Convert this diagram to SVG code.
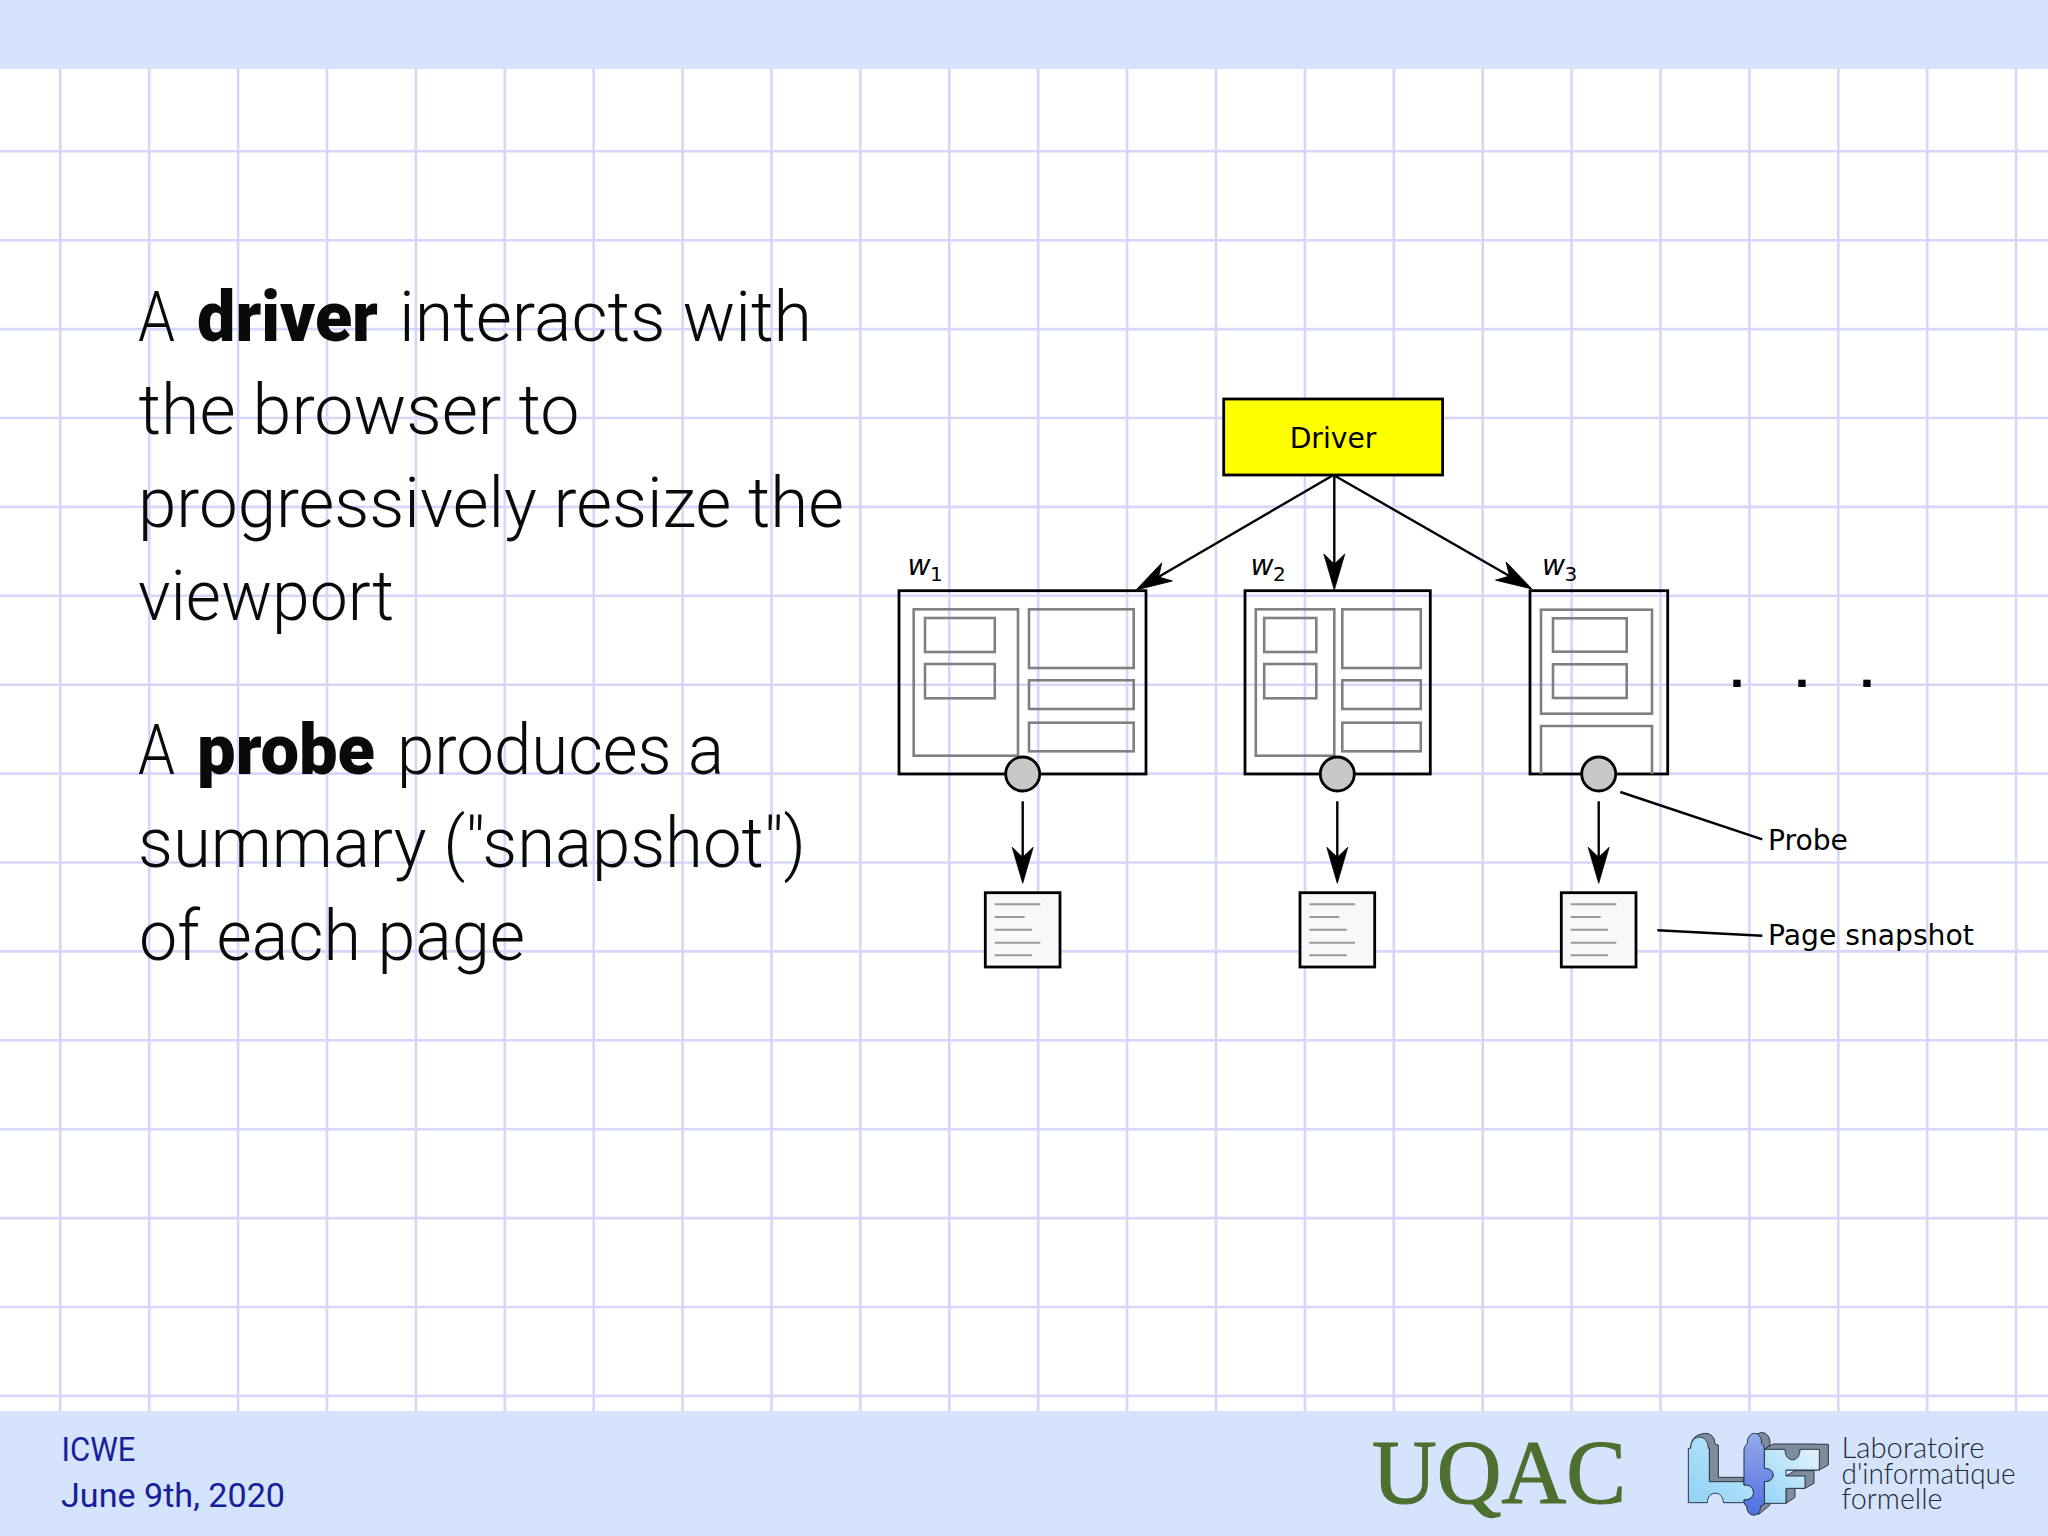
<svg xmlns="http://www.w3.org/2000/svg" width="2048" height="1536" viewBox="0 0 2048 1536">
<style>
.grid{fill:none;stroke:#d6d6fa;stroke-width:2.6}
.band{fill:#d5e3fd}
.body{font-family:"Roboto","Liberation Sans",sans-serif;font-weight:300;font-size:70px;fill:#0a0a0a}
.strong{font-weight:900}
.foot{font-family:"Roboto","Liberation Sans",sans-serif;font-weight:400;font-size:33px;fill:#15209a}
.lab{font-family:"DejaVu Sans",sans-serif;font-size:28.2px;fill:#000}
.var{font-style:italic}
.sub{font-size:20px}
.win{fill:none;stroke:#000;stroke-width:2.8}
.in{fill:none;stroke:#808080;stroke-width:2.6}
.probe{fill:#c8c8c8;stroke:#000;stroke-width:2.8}
.conn{fill:none;stroke:#000;stroke-width:2.4}
.arrow{marker-end:url(#head)}
.snap{fill:#f8f8fa;stroke:#000;stroke-width:2.8}
.ln{stroke:#999;stroke-width:2;fill:none}
.lif{stroke:#2b3440;stroke-width:3;stroke-linejoin:round}
.ext{fill:#7f8c9b}
.logo{font-family:"Lato","Roboto",sans-serif;font-weight:300;font-size:29px;fill:#222a33}
</style>
<defs>
<marker id="head" markerUnits="userSpaceOnUse" markerWidth="40" markerHeight="24" refX="30" refY="12" orient="auto" overflow="visible">
<path d="M38,12 L2,1.5 L12,12 L2,22.5 Z" fill="#000" stroke="#000" stroke-width="0.8"/>
</marker>
<linearGradient id="gL" x1="0" y1="1" x2="1" y2="0"><stop offset="0" stop-color="#8fd2f6"/><stop offset="1" stop-color="#c6e9fb"/></linearGradient>
<linearGradient id="gF" x1="0" y1="1" x2="1" y2="0"><stop offset="0" stop-color="#93d4f7"/><stop offset="1" stop-color="#e4f4fc"/></linearGradient>
<linearGradient id="gB" x1="0" y1="0" x2="0" y2="1"><stop offset="0" stop-color="#94aaea"/><stop offset="1" stop-color="#4f6fe2"/></linearGradient>
<g id="doc">
<rect class="snap" x="0" y="0" width="74.7" height="74.3"/>
<path class="ln" d="M9.4,11.6H55M9.4,24.3H39.4M9.4,37H46.7M9.4,50H55M9.4,62.6H46.7"/>
</g>
</defs>

<rect width="2048" height="1536" fill="#fff"/>
<path id="grid" class="grid" d="M60.3,60V1420M149.2,60V1420M238.1,60V1420M327,60V1420M415.9,60V1420M504.8,60V1420M593.7,60V1420M682.6,60V1420M771.5,60V1420M860.4,60V1420M949.3,60V1420M1038.2,60V1420M1127.1,60V1420M1216,60V1420M1304.9,60V1420M1393.8,60V1420M1482.7,60V1420M1571.6,60V1420M1660.5,60V1420M1749.4,60V1420M1838.3,60V1420M1927.2,60V1420M2016.1,60V1420M0,151.3H2048M0,240.2H2048M0,329.1H2048M0,418H2048M0,506.9H2048M0,595.8H2048M0,684.7H2048M0,773.6H2048M0,862.5H2048M0,951.4H2048M0,1040.3H2048M0,1129.2H2048M0,1218.1H2048M0,1307H2048M0,1395.9H2048"/>
<rect id="top-band" class="band" x="0" y="0" width="2048" height="69"/>
<rect id="bottom-band" class="band" x="0" y="1411" width="2048" height="125"/>

<g id="text-left">
<text class="body" y="341"><tspan x="138" textLength="37" lengthAdjust="spacingAndGlyphs">A</tspan><tspan class="strong" x="197" textLength="181" lengthAdjust="spacingAndGlyphs">driver</tspan><tspan x="399" textLength="413" lengthAdjust="spacingAndGlyphs">interacts with</tspan></text>
<text class="body" x="138.5" y="433.5" textLength="441" lengthAdjust="spacingAndGlyphs">the browser to</text>
<text class="body" x="138" y="527" textLength="706" lengthAdjust="spacingAndGlyphs">progressively resize the</text>
<text class="body" x="138" y="620" textLength="256" lengthAdjust="spacingAndGlyphs">viewport</text>
<text class="body" y="774"><tspan x="138" textLength="37" lengthAdjust="spacingAndGlyphs">A</tspan><tspan class="strong" x="197" textLength="178" lengthAdjust="spacingAndGlyphs">probe</tspan><tspan x="397" textLength="327" lengthAdjust="spacingAndGlyphs">produces a</tspan></text>
<text class="body" x="138" y="867" textLength="668" lengthAdjust="spacingAndGlyphs">summary ("snapshot")</text>
<text class="body" x="139" y="960" textLength="386" lengthAdjust="spacingAndGlyphs">of each page</text>
</g>

<g id="connectors">
<path class="conn arrow" d="M1333.5,475L1142.9,586"/>
<path class="conn arrow" d="M1334.3,475V582"/>
<path class="conn arrow" d="M1333.5,475L1525.1,585"/>
<path class="conn arrow" d="M1022.7,801.3V875.3"/>
<path class="conn arrow" d="M1337.3,801.3V875.3"/>
<path class="conn arrow" d="M1598.7,801.3V875.3"/>
<path class="conn" d="M1620.3,792L1762.3,839.3"/>
<path class="conn" d="M1657.3,930.3L1762.3,935.7"/>
</g>

<g id="driver">
<rect x="1223.7" y="399" width="218.9" height="76" fill="#ffff00" stroke="#000" stroke-width="2.8"/>
<text class="lab" x="1333" y="448.3" text-anchor="middle">Driver</text>
</g>

<g id="w1">
<rect class="win" x="899" y="590.7" width="247" height="183.3"/>
<rect class="in" x="913.7" y="609.3" width="104.3" height="146.4"/>
<rect class="in" x="925" y="618" width="69.8" height="34"/>
<rect class="in" x="925" y="664" width="69.8" height="34.3"/>
<rect class="in" x="1029" y="609.3" width="104.7" height="58.7"/>
<rect class="in" x="1029" y="680.3" width="104.7" height="28.7"/>
<rect class="in" x="1029" y="722.7" width="104.7" height="28.6"/>
<text class="lab var" x="907.5" y="575">w</text><text class="lab sub" x="930" y="581">1</text>
</g>
<g id="w2">
<rect class="win" x="1245" y="590.7" width="185.3" height="183.3"/>
<rect class="in" x="1255.8" y="609.3" width="78.5" height="146.4"/>
<rect class="in" x="1264.2" y="618" width="52.1" height="34"/>
<rect class="in" x="1264.2" y="664" width="52.1" height="34.3"/>
<rect class="in" x="1342.3" y="609.3" width="78.5" height="58.7"/>
<rect class="in" x="1342.3" y="680.3" width="78.5" height="28.7"/>
<rect class="in" x="1342.3" y="722.7" width="78.5" height="28.6"/>
<text class="lab var" x="1250.5" y="575">w</text><text class="lab sub" x="1273" y="581">2</text>
</g>
<g id="w3">
<rect class="win" x="1530" y="590.7" width="137.7" height="183.3"/>
<rect class="in" x="1541" y="609.7" width="111" height="104"/>
<rect class="in" x="1553" y="618.3" width="73.7" height="33.4"/>
<rect class="in" x="1553" y="664.3" width="73.7" height="33.7"/>
<path class="in" d="M1541,774V726H1652V774"/>
<text class="lab var" x="1542" y="575">w</text><text class="lab sub" x="1564.5" y="581">3</text>
</g>
<g id="probe1"><circle class="probe" cx="1022.7" cy="774" r="17"/></g>
<g id="probe2"><circle class="probe" cx="1337.3" cy="774" r="17"/></g>
<g id="probe3"><circle class="probe" cx="1598.7" cy="774" r="17"/></g>
<g id="snapshot1"><use href="#doc" x="985.3" y="892.7"/></g>
<g id="snapshot2"><use href="#doc" x="1300" y="892.7"/></g>
<g id="snapshot3"><use href="#doc" x="1561.3" y="892.7"/></g>
<g id="ellipsis" fill="#000">
<rect x="1733.3" y="679.7" width="7.3" height="7.3"/>
<rect x="1798.3" y="679.7" width="7.3" height="7.3"/>
<rect x="1863.3" y="679.7" width="7.3" height="7.3"/>
</g>
<g id="label-probe"><text class="lab" x="1768" y="850">Probe</text></g>
<g id="label-snapshot"><text class="lab" x="1768" y="945.3">Page snapshot</text></g>

<g id="footer">
<text class="foot" x="61.5" y="1460.7" textLength="74" lengthAdjust="spacingAndGlyphs">ICWE</text>
<text class="foot" x="61" y="1506.7" textLength="224" lengthAdjust="spacingAndGlyphs">June 9th, 2020</text>
</g>
<g id="uqac-logo">
<text x="1372" y="1503" textLength="254" lengthAdjust="spacingAndGlyphs" style="font-family:'Liberation Serif',serif;font-size:91px;fill:#4c702f;stroke:#4c702f;stroke-width:1.2">UQAC</text>
</g>
<g id="lif-logo">
<g transform="translate(1670,1420) scale(.33333)">
<path class="lif ext" d="M62,85C62,62 72,46 95,42C118,34 135,50 135,72L145,75V172L220,172V195L118,185V85Z"/>
<path class="lif ext" d="M240,50L272,38C292,36 302,55 300,75L283,90Z"/>
<path class="lif ext" d="M283,88L310,72L420,72L475,73V135L448,150H348L300,100Z"/>
<path class="lif ext" d="M348,168L375,152H432V190L405,205H375V232L348,250Z"/>
<path class="lif ext" d="M265,284L300,255V245H270Z"/>
<path class="lif" fill="url(#gL)" d="M55,248V85H62C62,40 115,40 115,85H118V185H222V195C255,190 265,240 222,240V248H160C160,210 112,210 112,248Z"/>
<path class="lif" fill="url(#gF)" d="M283,88H345C345,130 390,130 390,88H448V150H348V168H405V205H348V250H283V185C318,185 318,145 283,145Z"/>
<path class="lif" fill="url(#gB)" d="M222,90C222,80 228,75 232,70C232,30 275,30 275,70C280,75 283,80 283,90V145C318,145 318,185 283,185V250C283,255 278,258 272,258C272,295 230,295 230,258C225,258 222,250 222,240C265,240 255,190 222,195Z"/>
</g>
<text class="logo" x="1841.5" y="1458" textLength="143" lengthAdjust="spacingAndGlyphs">Laboratoire</text>
<text class="logo" x="1841.5" y="1484" textLength="174" lengthAdjust="spacingAndGlyphs">d'informatique</text>
<text class="logo" x="1841.5" y="1509" textLength="101" lengthAdjust="spacingAndGlyphs">formelle</text>
</g>
</svg>
